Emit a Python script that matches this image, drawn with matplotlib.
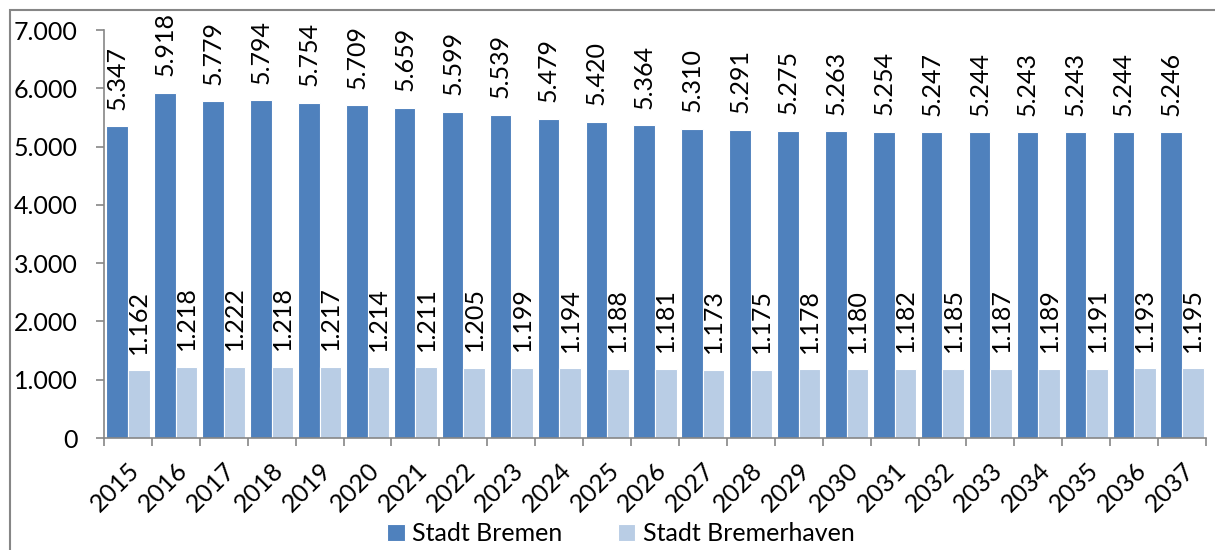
import matplotlib
matplotlib.use("Agg")
from matplotlib import pyplot as plt
from matplotlib.patches import Rectangle
import numpy as np

jahre = [str(j) for j in range(2015, 2038)]
bremen = [5347, 5918, 5779, 5794, 5754, 5709, 5659, 5599, 5539, 5479, 5420, 5364,
          5310, 5291, 5275, 5263, 5254, 5247, 5244, 5243, 5243, 5244, 5246]
bremerhaven = [1162, 1218, 1222, 1218, 1217, 1214, 1211, 1205, 1199, 1194, 1188, 1181,
               1173, 1175, 1178, 1180, 1182, 1185, 1187, 1189, 1191, 1193, 1195]
yticks = [0, 1000, 2000, 3000, 4000, 5000, 6000, 7000]

plt.rcParams['font.family'] = ['Lato', 'DejaVu Sans']
fs = 18

def punkt(v):
    # Tausendertrennzeichen als Punkt
    return f"{v:,}".replace(",", ".")

fig = plt.figure(figsize=(12.15, 5.5), dpi=100)
ax = fig.add_axes([104 / 1215, 1 - 438 / 550, (1206 - 104) / 1215, (438 - 30) / 550])

x = np.arange(len(jahre))
w = 0.45
b1 = ax.bar(x - w / 2, bremen, w, color='#4F81BD', edgecolor='white', linewidth=0.8,
            label='Stadt Bremen')
b2 = ax.bar(x + w / 2, bremerhaven, w, color='#B9CDE5', edgecolor='white', linewidth=0.8,
            label='Stadt Bremerhaven')

for xi, v in zip(x - w / 2, bremen):
    ax.annotate(punkt(v), (xi, v), xytext=(0, 12), textcoords='offset points',
                rotation=90, ha='center', va='bottom', fontsize=fs)
for xi, v in zip(x + w / 2, bremerhaven):
    ax.annotate(punkt(v), (xi, v), xytext=(0, 12), textcoords='offset points',
                rotation=90, ha='center', va='bottom', fontsize=fs)

ax.set_xlim(-0.5, len(jahre) - 0.5)
ax.set_ylim(0, 7000)
ax.set_yticks(yticks)
ax.set_yticklabels([punkt(v) for v in yticks], fontsize=fs)
ax.set_xticks(x)
ax.set_xticklabels(jahre, rotation=45, ha='right', rotation_mode='anchor', fontsize=fs)
ax.set_xticks(np.arange(len(jahre) + 1) - 0.5, minor=True)
ax.tick_params(axis='x', which='major', length=0, pad=15)
ax.tick_params(axis='x', which='minor', length=6, color='#868686', width=1.2)
ax.tick_params(axis='y', length=6, color='#868686', width=1.2, pad=13)

for s in ['top', 'right']:
    ax.spines[s].set_visible(False)
for s in ['left', 'bottom']:
    ax.spines[s].set_color('#868686')
    ax.spines[s].set_linewidth(1.2)

fig.legend(handles=[b1, b2], loc='center', bbox_to_anchor=(0.511, 0.03), ncol=2,
           frameon=False, fontsize=fs, handlelength=0.7, handleheight=0.7,
           handletextpad=0.3, columnspacing=2.2)

# Rahmen um das Diagramm
fig.patches.append(Rectangle((10 / 1215, -0.2), 1.2, 1 - 10 / 550 + 0.2,
                             transform=fig.transFigure, fill=False,
                             edgecolor='#868686', linewidth=1.5))

fig.savefig('out.png', dpi=100)
